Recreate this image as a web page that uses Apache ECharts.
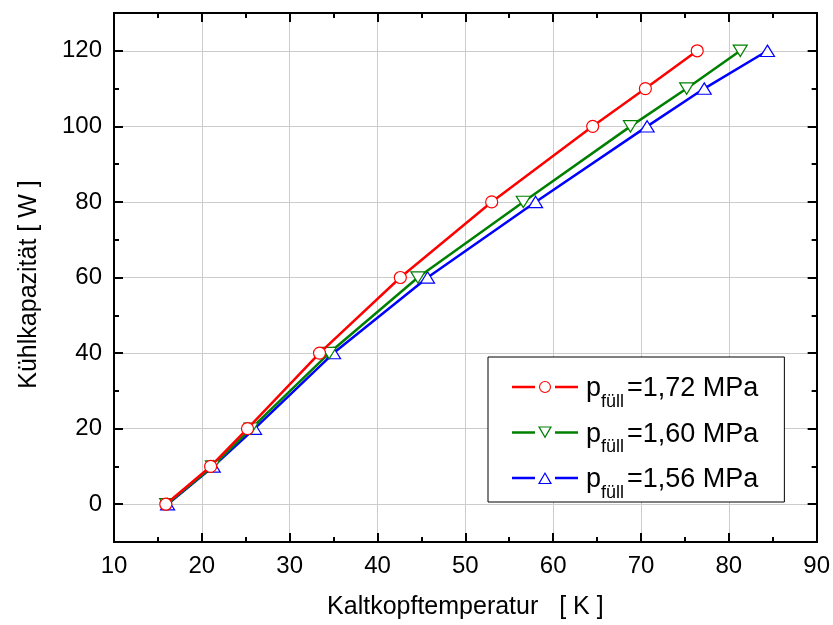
<!DOCTYPE html>
<html>
<head>
<meta charset="utf-8">
<script src="https://cdn.jsdelivr.net/npm/echarts@6/dist/echarts.min.js"></script>
<style>
  html, body { margin: 0; padding: 0; background: #fff; }
  #chart { width: 833px; height: 625px; }
</style>
</head>
<body>
<div id="chart"></div>
<script>
// Cooling capacity (W) vs. cold-head temperature (K) for three fill pressures
const capacity = [0, 10, 20, 40, 60, 80, 100, 110, 120];
const temp172 = [15.9, 21.0, 25.2, 33.4, 42.6, 53.0, 64.5, 70.5, 76.4];
const temp160 = [16.0, 21.2, 25.6, 34.5, 44.6, 56.6, 68.8, 75.2, 81.3];
const temp156 = [16.1, 21.3, 26.0, 35.0, 45.7, 58.0, 70.7, 77.2, 84.4];
const pressures = ['1,72', '1,60', '1,56'];
const yTicks = [0, 20, 40, 60, 80, 100, 120];
const xTicks = [10, 20, 30, 40, 50, 60, 70, 80, 90];

const colors = ['#ff0000', '#008000', '#0000ff'];
const temps = [temp172, temp160, temp156];
const names = pressures.map(p => 'p_füll=' + p + ' MPa');

// data markers: open circle, open down-triangle, open up-triangle
const symbols = ['circle', 'path://M0,0 L10,0 L5,9 Z', 'path://M5,0 L10,9 L0,9 Z'];
const symbolSizes = [12, [14, 12.6], [14, 12.6]];

// legend icons: line - marker - line, with small gaps around the marker
const barL = 'M0,5.75 L23,5.75 L23,8.25 L0,8.25 Z ';
const barR = 'M43,5.75 L66,5.75 L66,8.25 L43,8.25 Z ';
const legendIcons = [
  'path://' + barL + barR +
    'M27,7 A6,6 0 1 1 39,7 A6,6 0 1 1 27,7 Z ' +
    'M28.1,7 A4.9,4.9 0 1 0 37.9,7 A4.9,4.9 0 1 0 28.1,7 Z',
  'path://' + barL + barR +
    'M26,1 L40,1 L33,13 Z M28.1,2.1 L33,10.6 L37.9,2.1 Z',
  'path://' + barL + barR +
    'M33,1 L40,13 L26,13 Z M33,3.3 L28.1,11.9 L37.9,11.9 Z'
];

const font = 'Liberation Sans, Arial, sans-serif';

const series = temps.map((t, i) => ({
  name: names[i],
  type: 'line',
  data: t.map((x, k) => [x, capacity[k]]),
  xAxisIndex: 0,
  yAxisIndex: 0,
  symbol: symbols[i],
  symbolSize: symbolSizes[i],
  symbolKeepAspect: true,
  showAllSymbol: true,
  lineStyle: { color: colors[i], width: 2.5 },
  itemStyle: { color: '#fff', borderColor: colors[i], borderWidth: 1.2 },
  z: 5 - i
}));

const chart = echarts.init(document.getElementById('chart'), null, { renderer: 'canvas' });

const axisLine = { show: true, onZero: false, lineStyle: { color: '#000', width: 2 } };
const majorTick = (vals) => ({ show: true, inside: true, length: 9, customValues: vals, lineStyle: { color: '#000', width: 2 } });
const minorTickAll = { show: true, inside: true, length: 5, lineStyle: { color: '#000', width: 2 } };
const labelStyle = { fontFamily: font, fontSize: 24, color: '#000' };
const nameStyle = { fontFamily: font, fontSize: 25, color: '#000' };
const gridLine = { show: true, lineStyle: { color: '#cccccc', width: 1 } };

const xBase = { type: 'value', min: 10, max: 90, interval: 5, axisLine: axisLine };
const yBase = { type: 'value', min: -10, max: 130, interval: 10, axisLine: axisLine };

chart.setOption({
  animation: false,
  backgroundColor: '#fff',
  grid: { left: 114, top: 13, right: 14, bottom: 81 },
  legend: {
    left: 488, top: 357,
    orient: 'vertical',
    backgroundColor: '#fff',
    borderColor: '#000', borderWidth: 1,
    padding: [6, 26, 0, 24],
    itemWidth: 66, itemHeight: 14, itemGap: -2.5,
    data: names.map((n, i) => ({
      name: n,
      icon: legendIcons[i],
      itemStyle: { color: colors[i], borderWidth: 0 }
    })),
    formatter: n => '{p|p}{s|füll}{p|=' + n.split('=')[1] + '}',
    textStyle: {
      fontFamily: font, fontSize: 27, color: '#000',
      rich: {
        p: { fontFamily: font, fontSize: 27, color: '#000', lineHeight: 28, padding: [4, 0, 0, 3], verticalAlign: 'middle' },
        s: { fontFamily: font, fontSize: 18, color: '#000', lineHeight: 18, padding: [30, 0, 0, 0], verticalAlign: 'middle' }
      }
    }
  },
  xAxis: [
    // bottom: major ticks, labels, grid lines
    Object.assign({}, xBase, {
      position: 'bottom',
      name: 'Kaltkopftemperatur   [ K ]', nameLocation: 'middle', nameGap: 53,
      nameTextStyle: nameStyle,
      axisTick: majorTick(xTicks),
      axisLabel: Object.assign({ margin: 12, customValues: xTicks }, labelStyle),
      splitLine: gridLine
    }),
    // bottom: minor ticks
    Object.assign({}, xBase, { position: 'bottom', axisTick: minorTickAll, axisLabel: { show: false }, splitLine: { show: false } }),
    // top frame
    Object.assign({}, xBase, { position: 'top', axisTick: majorTick(xTicks), axisLabel: { show: false }, splitLine: { show: false } }),
    Object.assign({}, xBase, { position: 'top', axisTick: minorTickAll, axisLabel: { show: false }, splitLine: { show: false } })
  ],
  yAxis: [
    // left: major ticks, labels, grid lines
    Object.assign({}, yBase, {
      position: 'left',
      name: 'Kühlkapazität [ W ]', nameLocation: 'middle', nameGap: 72,
      nameTextStyle: Object.assign({ padding: [0, 14, 0, 0] }, nameStyle),
      axisTick: majorTick(yTicks),
      axisLabel: Object.assign({ margin: 12, customValues: yTicks }, labelStyle),
      splitLine: gridLine
    }),
    // left: minor ticks
    Object.assign({}, yBase, { position: 'left', axisTick: minorTickAll, axisLabel: { show: false }, splitLine: { show: false } }),
    // right frame
    Object.assign({}, yBase, { position: 'right', axisTick: majorTick(yTicks), axisLabel: { show: false }, splitLine: { show: false } }),
    Object.assign({}, yBase, { position: 'right', axisTick: minorTickAll, axisLabel: { show: false }, splitLine: { show: false } })
  ],
  series: series
});
</script>
</body>
</html>
